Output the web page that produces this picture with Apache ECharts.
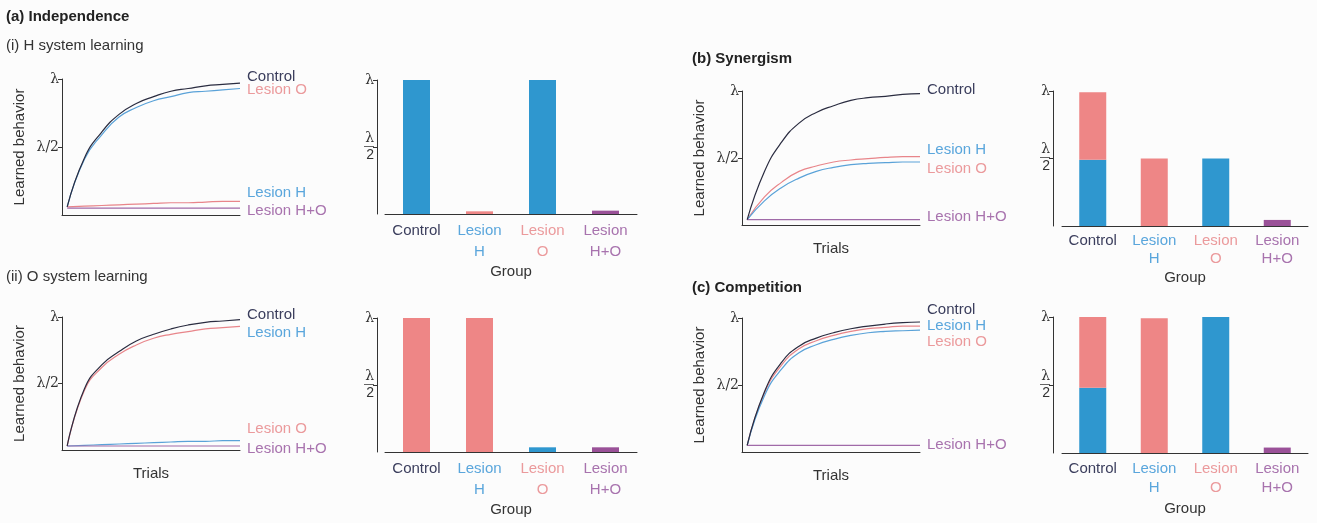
<!DOCTYPE html>
<html>
<head>
<meta charset="utf-8">
<script src="https://cdn.jsdelivr.net/npm/echarts@6/dist/echarts.min.js"></script>
<style>
html,body{margin:0;background:#fcfcfc}
#main{width:1317px;height:523px}
</style>
</head>
<body>
<div id="main"></div>
<script>
// trials on the x axis of every learning curve
var trials = [0, 1, 2, 3, 4, 5, 6, 7, 8, 9, 10];

// (a)(i) H system learning
var a1Control = [0.06, 0.42, 0.61, 0.74, 0.82, 0.87, 0.91, 0.93, 0.95, 0.96, 0.97];
var a1LesionO = [0.06, 0.41, 0.59, 0.72, 0.79, 0.84, 0.87, 0.90, 0.91, 0.92, 0.93];
var a1LesionH = [0.06, 0.065, 0.07, 0.075, 0.08, 0.085, 0.09, 0.09, 0.095, 0.10, 0.10];
var a1LesionHO = [0.05, 0.05, 0.05, 0.05, 0.05, 0.05, 0.05, 0.05, 0.05, 0.05, 0.05];

// (a)(ii) O system learning
var a2Control = [0.03, 0.46, 0.64, 0.74, 0.82, 0.87, 0.91, 0.94, 0.96, 0.97, 0.98];
var a2LesionH = [0.03, 0.45, 0.62, 0.72, 0.79, 0.84, 0.87, 0.89, 0.91, 0.92, 0.93];
var a2LesionO = [0.03, 0.035, 0.04, 0.045, 0.05, 0.055, 0.06, 0.065, 0.065, 0.07, 0.07];
var a2LesionHO = [0.03, 0.03, 0.03, 0.03, 0.03, 0.03, 0.03, 0.03, 0.03, 0.03, 0.03];

// (b) Synergism
var bControl = [0.04, 0.40, 0.62, 0.76, 0.84, 0.89, 0.93, 0.95, 0.96, 0.975, 0.98];
var bLesionH = [0.04, 0.21, 0.32, 0.40, 0.44, 0.47, 0.485, 0.495, 0.505, 0.51, 0.51];
var bLesionO = [0.04, 0.18, 0.28, 0.35, 0.40, 0.43, 0.45, 0.46, 0.465, 0.47, 0.47];
var bLesionHO = [0.04, 0.04, 0.04, 0.04, 0.04, 0.04, 0.04, 0.04, 0.04, 0.04, 0.04];

// (c) Competition
var cControl = [0.05, 0.45, 0.67, 0.79, 0.85, 0.89, 0.92, 0.94, 0.955, 0.965, 0.97];
var cLesionH = [0.05, 0.44, 0.65, 0.77, 0.83, 0.87, 0.90, 0.92, 0.93, 0.94, 0.94];
var cLesionO = [0.05, 0.42, 0.62, 0.74, 0.80, 0.84, 0.87, 0.89, 0.90, 0.905, 0.91];
var cLesionHO = [0.05, 0.05, 0.05, 0.05, 0.05, 0.05, 0.05, 0.05, 0.05, 0.05, 0.05];

// bar charts: share of behaviour from H system, O system, residual
var groups = ['Control', 'Lesion\nH', 'Lesion\nO', 'Lesion\nH+O'];
var a1BarH = [1, 0, 1, 0],        a1BarO = [0, 0.02, 0, 0],    a1BarHO = [0, 0, 0, 0.025];
var a2BarH = [0, 0, 0.035, 0],    a2BarO = [1, 1, 0, 0],       a2BarHO = [0, 0, 0, 0.035];
var bBarH  = [0.49, 0, 0.5, 0],   bBarO  = [0.5, 0.5, 0, 0],   bBarHO  = [0, 0, 0, 0.045];
var cBarH  = [0.48, 0, 1, 0],     cBarO  = [0.52, 0.99, 0, 0], cBarHO  = [0, 0, 0, 0.04];

var FONT = "'Liberation Sans', Arial, sans-serif";
var lineCol = {dark: '#2a2c40', blue: '#5aa2d8', pink: '#e8858a', purple: '#a06aa8'};
var barCol = {blue: '#2f97cf', pink: '#ee8686', purple: '#9a5198'};
var txtCol = {ctrl: '#3a3d5c', h: '#5aa6dc', o: '#eb9a9c', ho: '#a873ae'};
var groupCols = [txtCol.ctrl, txtCol.h, txtCol.o, txtCol.ho];

var grids = [], xAxes = [], yAxes = [], series = [];

function zip(vals) {
    return trials.map(function (t, i) { return [t, vals[i]]; });
}

function addLinePanel(box, showTrials, lines) {
    var idx = grids.length;
    grids.push(box);
    xAxes.push({
        gridIndex: idx, type: 'value', min: -0.3, max: 10,
        axisLine: {show: true, onZero: false, lineStyle: {color: '#333', width: 1}},
        axisTick: {show: false}, axisLabel: {show: false}, splitLine: {show: false},
        name: showTrials ? 'Trials' : '', nameLocation: 'middle', nameGap: 16,
        nameTextStyle: {fontSize: 15, color: '#333', fontFamily: FONT}
    });
    yAxes.push({
        gridIndex: idx, type: 'value', min: 0, max: 1,
        axisLine: {show: true, onZero: false, lineStyle: {color: '#333', width: 1}},
        axisTick: {show: true, length: 4, customValues: [0.5, 1], lineStyle: {color: '#333'}},
        axisLabel: {
            customValues: [0.5, 1], margin: 3, fontSize: 14, color: '#333', fontFamily: 'DejaVu Serif',
            formatter: function (v) { return v === 1 ? 'λ' : 'λ/2'; }
        },
        splitLine: {show: false},
        name: 'Learned behavior', nameLocation: 'middle', nameGap: 35,
        nameTextStyle: {fontSize: 15, color: '#333', fontFamily: FONT}
    });
    lines.forEach(function (l) {
        series.push({
            type: 'line', name: l.name, xAxisIndex: idx, yAxisIndex: idx,
            data: zip(l.data), symbol: 'none', smooth: 0.5,
            lineStyle: {color: l.color, width: 1.2},
            endLabel: {
                show: true, formatter: l.name, color: l.label, fontSize: 15,
                fontFamily: FONT, distance: 7, offset: [0, l.dy]
            },
            z: l.z || 2
        });
    });
}

function addBarPanel(box, yOff, lh, gap, hVals, oVals, hoVals) {
    var idx = grids.length;
    grids.push(box);
    var rich = {};
    groupCols.forEach(function (c, i) {
        rich['g' + i] = {color: c, fontSize: 15, lineHeight: lh, fontFamily: FONT};
    });
    xAxes.push({
        gridIndex: idx, type: 'category', data: groups,
        axisLine: {show: true, onZero: false, lineStyle: {color: '#333', width: 1}},
        axisTick: {show: false}, splitLine: {show: false},
        axisLabel: {
            margin: 6, interval: 0, rich: rich,
            formatter: function (v, i) {
                return v.split('\n').map(function (s) { return '{g' + i + '|' + s + '}'; }).join('\n');
            }
        },
        name: 'Group', nameLocation: 'middle', nameGap: gap,
        nameTextStyle: {fontSize: 15, color: '#333', fontFamily: FONT}
    });
    yAxes.push({
        gridIndex: idx, type: 'value', min: 0, max: 1, offset: yOff,
        axisLine: {show: true, onZero: false, lineStyle: {color: '#333', width: 1}},
        axisTick: {show: true, length: 4, customValues: [0.5, 1], lineStyle: {color: '#333'}},
        axisLabel: {
            customValues: [0.5, 1], margin: 3, color: '#333',
            formatter: function (v) { return v === 1 ? '{n|λ}' : '{n|λ}\n{l|—}\n{d|2}'; },
            rich: {
                n: {fontSize: 14, fontFamily: 'DejaVu Serif', lineHeight: 12, color: '#333'},
                l: {fontSize: 10, lineHeight: 4, color: '#333'},
                d: {fontSize: 14, fontFamily: FONT, lineHeight: 14, color: '#333'}
            }
        },
        splitLine: {show: false}
    });
    var parts = [[hVals, barCol.blue], [oVals, barCol.pink], [hoVals, barCol.purple]];
    parts.forEach(function (p) {
        series.push({
            type: 'bar', xAxisIndex: idx, yAxisIndex: idx, stack: 'st' + idx,
            data: p[0], barWidth: 27, itemStyle: {color: p[1]}
        });
    });
}

addLinePanel({left: 62, top: 79, width: 178, height: 136}, false, [
    {name: 'Control', data: a1Control, color: lineCol.dark, label: txtCol.ctrl, dy: -6, z: 3},
    {name: 'Lesion O', data: a1LesionO, color: lineCol.blue, label: txtCol.o, dy: 1},
    {name: 'Lesion H', data: a1LesionH, color: lineCol.pink, label: txtCol.h, dy: -9},
    {name: 'Lesion H+O', data: a1LesionHO, color: lineCol.purple, label: txtCol.ho, dy: 3}
]);
addBarPanel({left: 385, top: 80, width: 252, height: 134}, 8, 21, 50, a1BarH, a1BarO, a1BarHO);

addLinePanel({left: 62, top: 317, width: 178, height: 133}, true, [
    {name: 'Control', data: a2Control, color: lineCol.dark, label: txtCol.ctrl, dy: -5, z: 3},
    {name: 'Lesion H', data: a2LesionH, color: lineCol.pink, label: txtCol.h, dy: 7},
    {name: 'Lesion O', data: a2LesionO, color: lineCol.blue, label: txtCol.o, dy: -12},
    {name: 'Lesion H+O', data: a2LesionHO, color: lineCol.purple, label: txtCol.ho, dy: 3}
]);
addBarPanel({left: 385, top: 318, width: 252, height: 134}, 8, 21, 50, a2BarH, a2BarO, a2BarHO);

addLinePanel({left: 742, top: 91, width: 178, height: 134}, true, [
    {name: 'Control', data: bControl, color: lineCol.dark, label: txtCol.ctrl, dy: -4, z: 3},
    {name: 'Lesion H', data: bLesionH, color: lineCol.pink, label: txtCol.h, dy: -7},
    {name: 'Lesion O', data: bLesionO, color: lineCol.blue, label: txtCol.o, dy: 7},
    {name: 'Lesion H+O', data: bLesionHO, color: lineCol.purple, label: txtCol.ho, dy: -3}
]);
addBarPanel({left: 1062, top: 91, width: 246, height: 135}, 9, 18, 44, bBarH, bBarO, bBarHO);

addLinePanel({left: 742, top: 318, width: 178, height: 134}, true, [
    {name: 'Control', data: cControl, color: lineCol.dark, label: txtCol.ctrl, dy: -12, z: 3},
    {name: 'Lesion H', data: cLesionH, color: lineCol.pink, label: txtCol.h, dy: 0},
    {name: 'Lesion O', data: cLesionO, color: lineCol.blue, label: txtCol.o, dy: 12},
    {name: 'Lesion H+O', data: cLesionHO, color: lineCol.purple, label: txtCol.ho, dy: 0}
]);
addBarPanel({left: 1062, top: 317, width: 246, height: 136}, 9, 19, 48, cBarH, cBarO, cBarHO);

var headStyle = {fontSize: 15, fontWeight: 'bold', color: '#222', fontFamily: FONT};
var subStyle = {fontSize: 15, fontWeight: 'normal', color: '#333', fontFamily: FONT};

var myChart = echarts.init(document.getElementById('main'));
myChart.setOption({
    animation: false,
    backgroundColor: '#fcfcfc',
    textStyle: {fontFamily: FONT},
    title: [
        {text: '(a) Independence', left: 6, top: 9, textStyle: headStyle, padding: 0},
        {text: '(i) H system learning', left: 6, top: 38, textStyle: subStyle, padding: 0},
        {text: '(ii) O system learning', left: 6, top: 269, textStyle: subStyle, padding: 0},
        {text: '(b) Synergism', left: 692, top: 51, textStyle: headStyle, padding: 0},
        {text: '(c) Competition', left: 692, top: 280, textStyle: headStyle, padding: 0}
    ],
    grid: grids,
    xAxis: xAxes,
    yAxis: yAxes,
    series: series
});
</script>
</body>
</html>
